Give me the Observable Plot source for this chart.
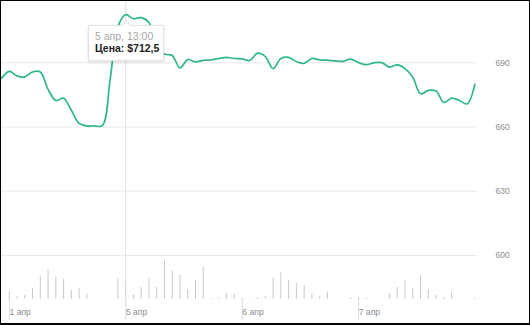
<!DOCTYPE html>
<html>
<head>
<meta charset="utf-8">
<script src="https://cdn.jsdelivr.net/npm/d3@7"></script>
<script src="https://cdn.jsdelivr.net/npm/@observablehq/plot@0.6"></script>
<style>
  html, body { margin: 0; padding: 0; background: #fff; }
  #wrap { position: relative; width: 530px; height: 325px; overflow: hidden; font-family: "Liberation Sans", Arial, sans-serif; }
  #wrap svg { position: absolute; left: 0; top: 0; }
  #frame { position: absolute; left: 0; top: 0; width: 530px; height: 325px; box-sizing: border-box;
           border: 1px solid #000; border-bottom-width: 2px; pointer-events: none; }
  #tip { position: absolute; left: 88px; top: 25px; width: 76px; height: 36px; box-sizing: border-box;
         background: #fff; border: 1px solid #e2e2e2; box-shadow: 0 1px 3px rgba(0,0,0,0.12);
         padding: 4px 0 0 6px; font-size: 10.5px; line-height: 12px; white-space: nowrap; }
  #tip .d { color: #a8a8a8; }
  #tip .v { color: #222; font-weight: bold; }
  #tip::before { content: ""; position: absolute; left: 34px; top: -4px; width: 6px; height: 6px;
         background: #fff; border-left: 1px solid #e2e2e2; border-top: 1px solid #e2e2e2; transform: rotate(45deg); }
</style>
</head>
<body>
<div id="wrap"></div>
<script>
// ---- data ----
const prices = [
  682.7, 686.0, 683.9, 683.4, 685.7, 685.7, 677.6, 672.4, 673.4, 667.8,
  661.7, 660.5, 660.5, 660.6, 682.2, 706.9, 712.5, 710.6, 711.1, 708.8,
  698.0, 694.1, 693.4, 687.6, 691.5, 690.4, 691.1, 691.3, 692.0, 692.5,
  692.0, 691.8, 691.1, 694.5, 692.9, 687.3, 692.0, 692.5, 690.6, 689.7,
  692.0, 691.4, 691.2, 690.9, 690.7, 691.7, 690.1, 689.1, 690.0, 690.1,
  688.0, 689.0, 687.3, 683.2, 675.5, 677.1, 676.8, 671.5, 673.5, 672.4,
  670.8, 679.9
];
const volumes = [
  5, 80, 27, 40, 110, 227, 300, 227, 200, 93,
  113, 50, 5, 3, 3, 207, 167, 43, 120, 207,
  120, 387, 287, 243, 100, 193, 320, 10, 13, 60,
  53, 13, 7, 20, 33, 213, 267, 187, 160, 140,
  53, 27, 73, 5, 5, 20, 20, 13, 5, 5,
  60, 120, 187, 113, 240, 100, 40, 20, 73, 5,
  5, 13
];
const dayTickIndex = [0, 15, 30, 45];
const dayTickLabels = ["1 апр", "5 апр", "6 апр", "7 апр"];
const priceTicks = [600, 630, 660, 690];
const tipIndex = 16;
const tipDate = "5 апр, 13:00";
const tipLabel = "Цена:";
const tipValue = "$712,5";

const priceData = prices.map((p, i) => ({i, p}));
const volData = volumes.map((v, i) => ({i, v}));

const W = 530, H = 325;
const xDomain = [0, 61.34];
const common = {
  width: W, height: H, marginLeft: 1, marginRight: 53, marginBottom: 26,
  x: {domain: xDomain, axis: null},
  style: {fontFamily: "'Liberation Sans', Arial, sans-serif", fontSize: "8.6px", background: "transparent", overflow: "visible"}
};

const volPlot = Plot.plot({
  ...common,
  marginTop: 259,
  y: {domain: [0, 400], axis: null},
  marks: [
    Plot.ruleX(volData, {x: "i", y1: 0, y2: "v", stroke: "#c9c9c9", strokeWidth: 1}),
    Plot.axisX(dayTickIndex, {
      anchor: "bottom", label: null, tickSize: 21, tickPadding: -12, textAnchor: "start", dx: 8,
      stroke: "#dcdcdc", fill: "#8c8c8c",
      tickFormat: (d) => dayTickLabels[dayTickIndex.indexOf(d)]
    })
  ]
});

const pricePlot = Plot.plot({
  ...common,
  marginTop: 0,
  y: {domain: [579.4, 719.1], axis: null},
  marks: [
    Plot.gridY(priceTicks, {stroke: "#e9e9e9", strokeOpacity: 1}),
    Plot.axisY(priceTicks, {anchor: "right", label: null, tickSize: 0, tickPadding: 18, fill: "#8c8c8c"}),
    Plot.ruleX([tipIndex], {stroke: "#dedede", strokeWidth: 1}),
    Plot.line(priceData, {x: "i", y: "p", curve: "catmull-rom", stroke: "#2fb68a", strokeWidth: 1.7})
  ]
});

const wrap = document.getElementById("wrap");
wrap.appendChild(volPlot);
wrap.appendChild(pricePlot);

const tip = document.createElement("div");
tip.id = "tip";
tip.innerHTML = `<div class="d">${tipDate}</div><div class="v">${tipLabel} ${tipValue}</div>`;
wrap.appendChild(tip);

const frame = document.createElement("div");
frame.id = "frame";
wrap.appendChild(frame);
</script>
</body>
</html>
